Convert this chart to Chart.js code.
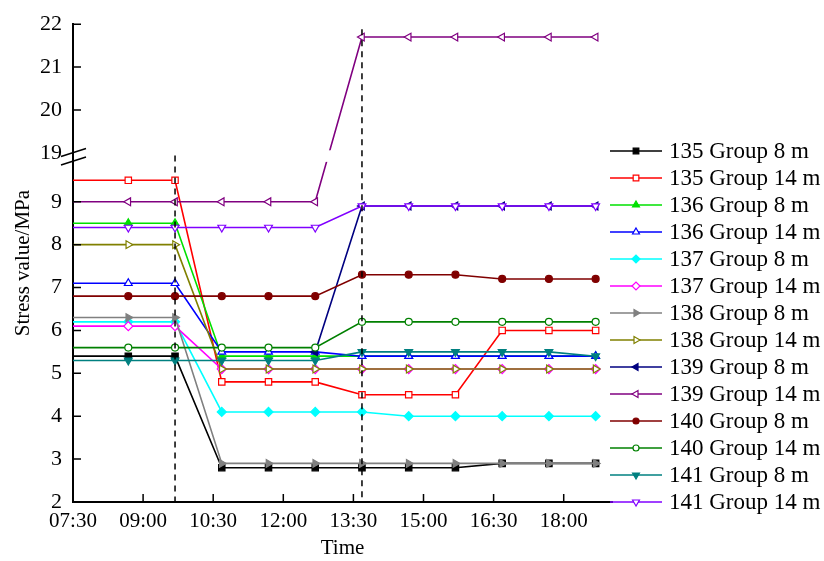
<!DOCTYPE html>
<html lang="en">
<head>
<meta charset="UTF-8">
<title>Stress value</title>
<script src="https://cdn.jsdelivr.net/npm/chart.js"></script>
<style>
  html, body { margin: 0; padding: 0; background: #fff; }
  #wrap { width: 824px; height: 561px; }
</style>
</head>
<body>
<div id="wrap"><canvas id="chart"></canvas></div>
<script>
    // time of each reading, minutes after 07:30
    const times = [0, 71, 131, 191, 251, 311, 371, 431, 491, 551, 611, 671];
    const xTickValues = [0, 90, 180, 270, 360, 450, 540, 630];
    const xTickLabels = ['07:30', '09:00', '10:30', '12:00', '13:30', '15:00', '16:30', '18:00'];
    const yTickLabels = [2, 3, 4, 5, 6, 7, 8, 9, 19, 20, 21, 22];

    const names = ['135 Group 8 m', '135 Group 14 m', '136 Group 8 m', '136 Group 14 m',
        '137 Group 8 m', '137 Group 14 m', '138 Group 8 m', '138 Group 14 m',
        '139 Group 8 m', '139 Group 14 m', '140 Group 8 m', '140 Group 14 m',
        '141 Group 8 m', '141 Group 14 m'];

    const g135_8  = [5.4, 5.4, 5.4, 2.8, 2.8, 2.8, 2.8, 2.8, 2.8, 2.9, 2.9, 2.9];
    const g135_14 = [9.5, 9.5, 9.5, 4.8, 4.8, 4.8, 4.5, 4.5, 4.5, 6.0, 6.0, 6.0];
    const g136_8  = [8.5, 8.5, 8.5, 5.4, 5.4, 5.4, 5.4, 5.4, 5.4, 5.4, 5.4, 5.4];
    const g136_14 = [7.1, 7.1, 7.1, 5.5, 5.5, 5.5, 5.4, 5.4, 5.4, 5.4, 5.4, 5.4];
    const g137_8  = [6.2, 6.2, 6.2, 4.1, 4.1, 4.1, 4.1, 4.0, 4.0, 4.0, 4.0, 4.0];
    const g137_14 = [6.1, 6.1, 6.1, 5.1, 5.1, 5.1, 5.1, 5.1, 5.1, 5.1, 5.1, 5.1];
    const g138_8  = [6.3, 6.3, 6.3, 2.9, 2.9, 2.9, 2.9, 2.9, 2.9, 2.9, 2.9, 2.9];
    const g138_14 = [8.0, 8.0, 8.0, 5.1, 5.1, 5.1, 5.1, 5.1, 5.1, 5.1, 5.1, 5.1];
    const g139_8  = [null, null, null, null, null, 5.5, 8.9, 8.9, 8.9, 8.9, 8.9, 8.9];
    const g139_14 = [9.0, 9.0, 9.0, 9.0, 9.0, 9.0, 21.7, 21.7, 21.7, 21.7, 21.7, 21.7];
    const g140_8  = [6.8, 6.8, 6.8, 6.8, 6.8, 6.8, 7.3, 7.3, 7.3, 7.2, 7.2, 7.2];
    const g140_14 = [5.6, 5.6, 5.6, 5.6, 5.6, 5.6, 6.2, 6.2, 6.2, 6.2, 6.2, 6.2];
    const g141_8  = [5.3, 5.3, 5.3, 5.3, 5.3, 5.3, 5.5, 5.5, 5.5, 5.5, 5.5, 5.4];
    const g141_14 = [8.4, 8.4, 8.4, 8.4, 8.4, 8.4, 8.9, 8.9, 8.9, 8.9, 8.9, 8.9];

    const series = [g135_8, g135_14, g136_8, g136_14, g137_8, g137_14, g138_8,
        g138_14, g139_8, g139_14, g140_8, g140_14, g141_8, g141_14];

    const colors = ['#000000', '#FF0000', '#00E000', '#0000FF', '#00FFFF', '#FF00FF', '#808080',
        '#808000', '#000080', '#800080', '#800000', '#008000', '#008080', '#8000FF'];
    // marker: [pointStyle, rotation, filled]
    const markers = [['rect', 0, true], ['rect', 0, false], ['triangle', 0, true], ['triangle', 0, false],
        ['rectRot', 0, true], ['rectRot', 0, false], ['triangle', 90, true], ['triangle', 90, false],
        ['triangle', 270, true], ['triangle', 270, false], ['circle', 0, true], ['circle', 0, false],
        ['triangle', 180, true], ['triangle', 180, false]];

    // broken axis: 19..22 drawn right above 9
    const BREAK_SHIFT = 8.86;
    function toAxis(v) {
        if (v === null) return null;
        return v >= 19 ? v - BREAK_SHIFT : v;
    }

    function markerRadius(i) {
        return markers[i][0] === 'circle' ? 3.5 : 4.5;
    }

    const datasets = series.map(function (vals, i) {
        return {
            label: names[i],
            data: vals.map(function (v, k) { return { x: times[k], y: toAxis(v) }; }),
            borderColor: colors[i],
            backgroundColor: markers[i][2] ? colors[i] : '#ffffff',
            pointBorderColor: colors[i],
            pointBackgroundColor: markers[i][2] ? colors[i] : '#ffffff',
            pointStyle: markers[i][0],
            pointRotation: markers[i][1],
            pointRadius: function (ctx) { return ctx.dataIndex === 0 ? 0 : markerRadius(i); },
            pointBorderWidth: 1.2,
            borderWidth: 1.6,
            tension: 0,
            spanGaps: false,
            order: series.length - i
        };
    });

    const overlay = {
        id: 'overlay',
        afterDatasetsDraw(chart) {
            const ctx = chart.ctx;
            const xs = chart.scales.x, ys = chart.scales.y;
            const area = chart.chartArea;
            ctx.save();
            // gap in the lines where the axis is broken
            const gTop = ys.getPixelForValue(10.2), gBot = ys.getPixelForValue(9.93);
            ctx.fillStyle = '#ffffff';
            ctx.fillRect(area.left + 2, gTop, area.right - area.left - 2, gBot - gTop);
            // dashed markers at 09:40 and 13:40
            ctx.strokeStyle = '#000';
            ctx.lineWidth = 1.5;
            ctx.setLineDash([6, 5]);
            [[131, 10.08], [371, 13.02]].forEach(function (d) {
                const px = xs.getPixelForValue(d[0]);
                ctx.beginPath();
                ctx.moveTo(px, ys.getPixelForValue(d[1]));
                ctx.lineTo(px, area.bottom);
                ctx.stroke();
            });
            ctx.restore();
        },
        afterDraw(chart) {
            const ctx = chart.ctx;
            const xs = chart.scales.x, ys = chart.scales.y;
            const area = chart.chartArea;
            ctx.save();
            ctx.strokeStyle = '#000';
            ctx.lineWidth = 1.5;
            // inward tick marks
            ctx.beginPath();
            yTickLabels.forEach(function (v) {
                if (v === 2 || v === 19) return;
                const py = ys.getPixelForValue(toAxis(v));
                ctx.moveTo(area.left, py);
                ctx.lineTo(area.left + 8, py);
            });
            xTickValues.forEach(function (v, i) {
                if (i === 0) return;
                const px = xs.getPixelForValue(v);
                ctx.moveTo(px, area.bottom);
                ctx.lineTo(px, area.bottom - 8);
            });
            ctx.stroke();
            // break symbol on the y axis
            const b1 = ys.getPixelForValue(10.15), b2 = ys.getPixelForValue(9.95);
            ctx.beginPath();
            ctx.moveTo(area.left - 12, b1 + 4);
            ctx.lineTo(area.left + 13, b1 - 4);
            ctx.moveTo(area.left - 12, b2 + 4);
            ctx.lineTo(area.left + 13, b2 - 4);
            ctx.stroke();

            // legend
            const lx = 610, ly = 151, step = 27;
            ctx.font = '23px "Liberation Serif"';
            ctx.textBaseline = 'middle';
            ctx.textAlign = 'left';
            names.forEach(function (name, i) {
                const y = ly + i * step;
                ctx.strokeStyle = colors[i];
                ctx.lineWidth = 1.6;
                ctx.beginPath();
                ctx.moveTo(lx, y);
                ctx.lineTo(lx + 52, y);
                ctx.stroke();
                ctx.fillStyle = markers[i][2] ? colors[i] : '#ffffff';
                ctx.lineWidth = 1.2;
                Chart.helpers.drawPoint(ctx, {
                    pointStyle: markers[i][0],
                    rotation: markers[i][1],
                    radius: markerRadius(i) - 0.5,
                    borderWidth: 1.2
                }, lx + 26, y);
                ctx.fillStyle = '#000';
                ctx.fillText(name, lx + 59, y + 1);
            });
            ctx.restore();
        }
    };

    Chart.defaults.font.family = '"Liberation Serif", serif';
    Chart.defaults.color = '#000';

    new Chart(document.getElementById('chart'), {
        type: 'line',
        data: { datasets: datasets },
        options: {
            responsive: true,
            maintainAspectRatio: false,
            animation: false,
            layout: { padding: { top: 20, right: 212, left: 0, bottom: 0 } },
            plugins: {
                legend: { display: false },
                tooltip: { enabled: false }
            },
            scales: {
                x: {
                    type: 'linear',
                    min: 0,
                    max: 692,
                    grid: { display: false, drawTicks: false },
                    border: { color: '#000', width: 2 },
                    ticks: {
                        padding: 7,
                        maxRotation: 0,
                        autoSkip: false,
                        font: { size: 21 },
                        callback: function (v, i) { return xTickLabels[i]; }
                    },
                    afterBuildTicks: function (scale) {
                        scale.ticks = xTickValues.map(function (v) { return { value: v }; });
                    },
                    afterFit: function (scale) { scale.height = 59; },
                    title: {
                        display: true,
                        text: 'Time',
                        font: { size: 21 },
                        padding: { top: 0, bottom: 0 }
                    }
                },
                y: {
                    type: 'linear',
                    min: 2,
                    max: 22 - BREAK_SHIFT,
                    grid: { display: false, drawTicks: false },
                    border: { color: '#000', width: 2 },
                    ticks: {
                        padding: 11,
                        autoSkip: false,
                        font: { size: 22 },
                        callback: function (v, i) { return String(yTickLabels[i]); }
                    },
                    afterBuildTicks: function (scale) {
                        scale.ticks = yTickLabels.map(function (v) { return { value: toAxis(v) }; });
                    },
                    afterFit: function (scale) { scale.width = 73; },
                    title: {
                        display: true,
                        text: 'Stress value/MPa',
                        font: { size: 21 },
                        padding: { top: 11, bottom: 0 }
                    }
                }
            }
        },
        plugins: [overlay]
    });
</script>
</body>
</html>
